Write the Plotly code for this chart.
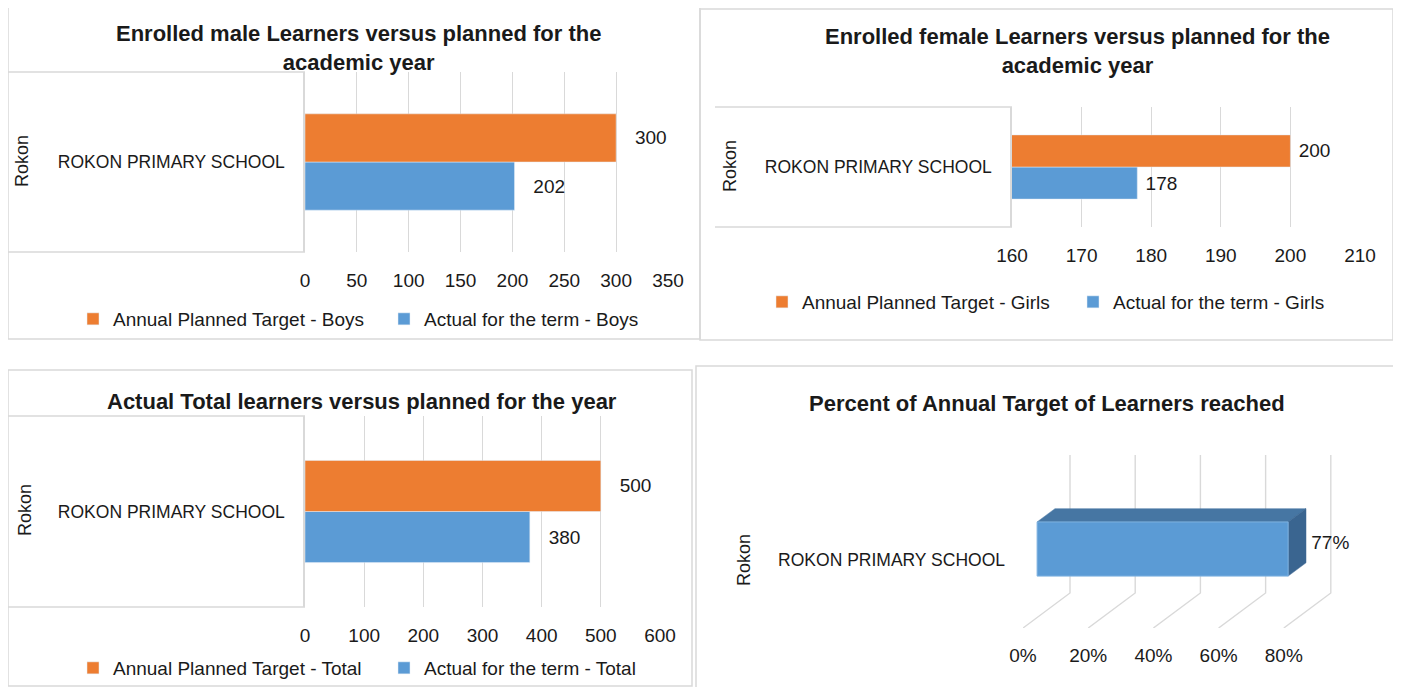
import plotly.graph_objects as go

# ---------------- data ----------------
REGION = "Rokon"
SCHOOL = ["ROKON PRIMARY SCHOOL"]

boys_target = [300]
boys_actual = [202]
girls_target = [200]
girls_actual = [178]
total_target = [500]
total_actual = [380]
pct_reached = [0.77]

boys_ticks = [0, 50, 100, 150, 200, 250, 300, 350]
girls_ticks = [160, 170, 180, 190, 200, 210]
total_ticks = [0, 100, 200, 300, 400, 500, 600]
pct_ticks = [0, 0.2, 0.4, 0.6, 0.8]

titles = [
    "Enrolled male Learners versus planned for the<br>academic year",
    "Enrolled female Learners versus planned for the<br>academic year",
    "Actual Total learners versus planned for the year",
    "Percent of Annual Target of Learners reached",
]
legend_names = [
    ("Annual Planned Target - Boys", "Actual for the term - Boys"),
    ("Annual Planned Target - Girls", "Actual for the term - Girls"),
    ("Annual Planned Target - Total", "Actual for the term - Total"),
]

# ---------------- style ----------------
W, H = 1401, 687
OFF = 8                      # page body margin compensation
ORANGE = "#ED7D31"
BLUE = "#5B9BD5"
TOP3D = "#4676A3"
SIDE3D = "#3A6590"
GRID = "#d9d9d9"
TXT = "#1a1a1a"
FONT = "Liberation Sans, Arial, sans-serif"
NB = "\u00a0"


def px(x):
    return (x - OFF) / W


def py(y):
    return 1 - (y - OFF) / H


fig = go.Figure()

panels = [
    (boys_target, boys_actual, legend_names[0], "x", "y", "legend", NB * 3),
    (girls_target, girls_actual, legend_names[1], "x2", "y2", "legend2", NB),
    (total_target, total_actual, legend_names[2], "x3", "y3", "legend3", NB * 3),
]
for tgt, act, names, xa, ya, lg, pad in panels:
    fig.add_trace(go.Bar(
        y=SCHOOL, x=act, orientation="h", name=names[1], marker_color=BLUE,
        xaxis=xa, yaxis=ya, legend=lg, legendrank=2,
        text=act, texttemplate=pad + "%{x}", textposition="outside",
        constraintext="none", cliponaxis=False,
        outsidetextfont=dict(family=FONT, size=19, color=TXT),
    ))
    fig.add_trace(go.Bar(
        y=SCHOOL, x=tgt, orientation="h", name=names[0], marker_color=ORANGE,
        xaxis=xa, yaxis=ya, legend=lg, legendrank=1,
        text=tgt, texttemplate=pad + "%{x}", textposition="outside",
        constraintext="none", cliponaxis=False,
        outsidetextfont=dict(family=FONT, size=19, color=TXT),
    ))

# ---------------- 3D-looking percent bar (panel 4) ----------------
DX, DY = 0.1442, 0.2023       # full depth offset (axis units)
F1, G = 0.30, 0.38            # bar front depth fraction, bar thickness fraction
Y_LO, Y_HI = 0.30, 0.613
v = pct_reached[0]
x0 = F1 * DX
gx, gy = G * DX, G * DY

gxs, gys = [], []
for t in pct_ticks:
    gxs += [t, t + DX, t + DX, None]
    gys += [0, DY, 1.0, None]
fig.add_trace(go.Scatter(x=gxs, y=gys, mode="lines", line=dict(color=GRID, width=1.4),
                         xaxis="x4", yaxis="y4", showlegend=False, hoverinfo="skip"))
fig.add_trace(go.Scatter(
    x=[x0, x0 + v, x0 + v + gx, x0 + gx, x0],
    y=[Y_HI, Y_HI, Y_HI + gy, Y_HI + gy, Y_HI],
    fill="toself", fillcolor=TOP3D, mode="lines", line=dict(color=TOP3D, width=0.5),
    xaxis="x4", yaxis="y4", showlegend=False, hoverinfo="skip"))
fig.add_trace(go.Scatter(
    x=[x0 + v, x0 + v + gx, x0 + v + gx, x0 + v, x0 + v],
    y=[Y_LO, Y_LO + gy, Y_HI + gy, Y_HI, Y_LO],
    fill="toself", fillcolor=SIDE3D, mode="lines", line=dict(color=SIDE3D, width=0.5),
    xaxis="x4", yaxis="y4", showlegend=False, hoverinfo="skip"))
fig.add_trace(go.Scatter(
    x=[x0, x0 + v, x0 + v, x0, x0],
    y=[Y_LO, Y_LO, Y_HI, Y_HI, Y_LO],
    fill="toself", fillcolor=BLUE, mode="lines", line=dict(color="#7fb2e0", width=1),
    xaxis="x4", yaxis="y4", showlegend=False, hoverinfo="skip"))
fig.add_trace(go.Scatter(
    x=[x0 + v + gx], y=[(Y_LO + Y_HI) / 2 + gy / 2 - 0.01],
    text=[NB + f"{v:.0%}"], mode="text", textposition="middle right",
    textfont=dict(family=FONT, size=19, color=TXT),
    xaxis="x4", yaxis="y4", showlegend=False, hoverinfo="skip", cliponaxis=False))

# ---------------- axes ----------------
numfont = dict(family=FONT, size=19, color=TXT)
catfont = dict(family=FONT, size=17.5, color=TXT)


def xax(domain, rng, ticks, anchor, fmt=None, grid=True):
    d = dict(domain=domain, range=rng, tickvals=ticks, anchor=anchor, showgrid=grid,
             gridcolor=GRID, gridwidth=1.4, zeroline=False, showline=False,
             tickfont=numfont, ticks="", ticklabelstandoff=15, fixedrange=True,
             automargin=False)
    if fmt:
        d["tickformat"] = fmt
    return d


def yax(domain, anchor, line=True):
    return dict(domain=domain, anchor=anchor, showgrid=False, zeroline=False,
                showline=line, linecolor=GRID, linewidth=1.5, tickfont=catfont,
                ticks="", ticklabelstandoff=15, fixedrange=True, automargin=False)


fig.update_layout(
    xaxis=xax([px(305), px(668)], [0, 350], boys_ticks, "y"),
    yaxis=yax([py(252), py(72)], "x"),
    xaxis2=xax([px(1012), px(1360)], [160, 210], girls_ticks, "y2"),
    yaxis2=yax([py(227), py(107)], "x2"),
    xaxis3=xax([px(305), px(660)], [0, 600], total_ticks, "y3"),
    yaxis3=yax([py(607), py(416)], "x3"),
    xaxis4=xax([px(1023), px(1349)], [0, 1], pct_ticks, "y4", fmt=".0%", grid=False),
    yaxis4=dict(domain=[py(628), py(455)], anchor="x4", range=[0, 1],
                tickvals=[0.393], ticktext=SCHOOL, showgrid=False, zeroline=False,
                showline=False, tickfont=catfont, ticks="", ticklabelstandoff=17,
                fixedrange=True, automargin=False),
)
fig.update_xaxes(selector=dict(anchor="y4"), ticklabelstandoff=14)

legfont = dict(family=FONT, size=19, color=TXT)
leg = dict(orientation="h", xanchor="center", yanchor="middle", font=legfont,
           bgcolor="rgba(0,0,0,0)", entrywidth=266, entrywidthmode="pixels")
fig.update_layout(
    barmode="group", bargap=0.465, bargroupgap=0,
    width=W, height=H, margin=dict(l=0, r=0, t=0, b=0, autoexpand=False),
    paper_bgcolor="white", plot_bgcolor="white",
    legend=dict(leg, x=px(384), y=py(319)),
    legend2=dict(leg, x=px(1073), y=py(302)),
    legend3=dict(leg, x=px(384), y=py(668)),
)

title_pos = [(358, 48), (1077, 51), (362, 401), (1047, 403)]
for t, (tx, ty) in zip(titles, title_pos):
    fig.add_annotation(text="<b>" + t + "</b>", x=px(tx), y=py(ty), xref="paper", yref="paper",
                       showarrow=False, font=dict(family=FONT, size=22, color=TXT),
                       xanchor="center", yanchor="middle")
for rx, ry in [(22, 161), (730, 166), (25, 510), (744, 560)]:
    fig.add_annotation(text=REGION, x=px(rx), y=py(ry), xref="paper", yref="paper",
                       showarrow=False, textangle=-90,
                       font=dict(family=FONT, size=18, color=TXT),
                       xanchor="center", yanchor="middle")

shapes = []
for x0b, y0b, x1b, y1b in [(8, 6, 700, 339), (700, 9, 1393, 340), (8, 370, 692, 686),
                           (696, 366, 1399, 690)]:
    shapes.append(dict(type="rect", xref="paper", yref="paper",
                       x0=px(x0b), x1=px(x1b), y0=py(y0b), y1=py(y1b),
                       line=dict(color=GRID, width=1.5), fillcolor="rgba(0,0,0,0)", layer="below"))
for xa, xb, yl in [(8, 305, 72), (8, 305, 252), (715, 1012, 107), (715, 1012, 227),
                   (8, 305, 416), (8, 305, 607)]:
    shapes.append(dict(type="line", xref="paper", yref="paper",
                       x0=px(xa), x1=px(xb), y0=py(yl), y1=py(yl),
                       line=dict(color=GRID, width=1.5)))
fig.update_layout(shapes=shapes)

fig.write_html("out.html")
